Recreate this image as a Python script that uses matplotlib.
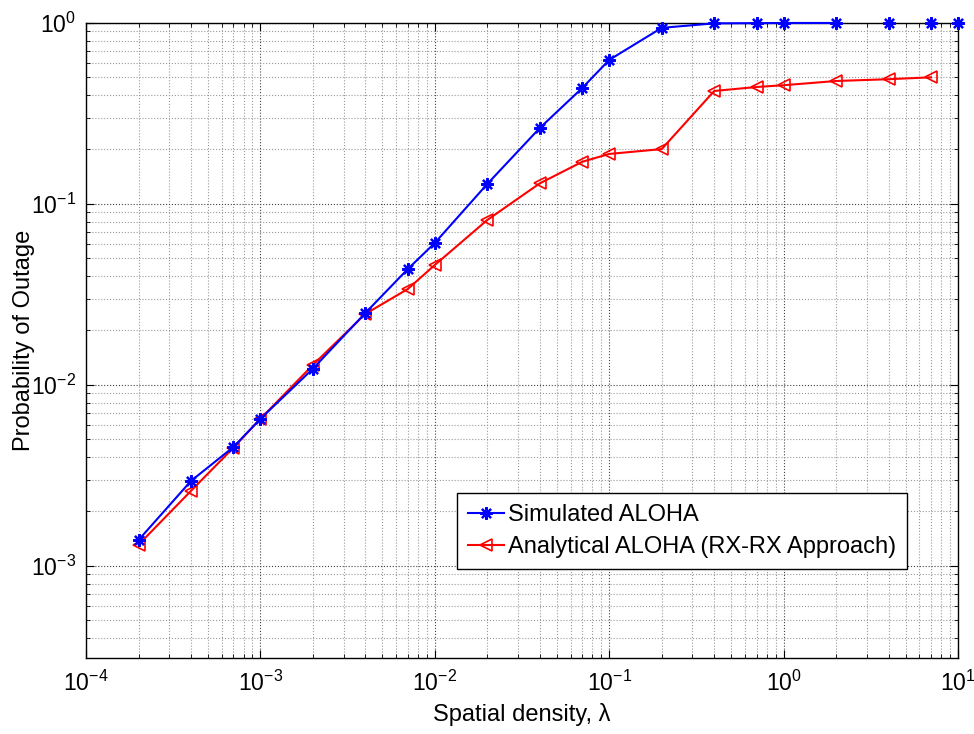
import numpy as np
import matplotlib.pyplot as plt

plt.rcParams['font.family'] = ['Liberation Sans', 'DejaVu Sans']
plt.rcParams['mathtext.fontset'] = 'custom'
plt.rcParams['mathtext.rm'] = 'Liberation Sans'
plt.rcParams['mathtext.it'] = 'Liberation Sans:italic'
plt.rcParams['mathtext.default'] = 'regular'

# spatial density values
lam = [2e-4, 4e-4, 7e-4, 1e-3, 2e-3, 4e-3, 7e-3, 1e-2, 2e-2, 4e-2,
       7e-2, 1e-1, 2e-1, 4e-1, 7e-1, 1, 2, 4, 7, 10]

# simulated ALOHA outage
p_sim = [1.39e-3, 2.95e-3, 4.54e-3, 6.5e-3, 1.23e-2, 2.5e-2, 4.37e-2, 6.09e-2, 0.129, 0.263,
         0.437, 0.625, 0.94, 0.995, 0.998, 1.0, 1.0, 1.0, 1.0, 1.0]

# analytical ALOHA (RX-RX approach), no point at 10
lam_an = lam[:-1]
p_an = [1.31e-3, 2.6e-3, 4.5e-3, 6.5e-3, 1.29e-2, 2.47e-2, 3.39e-2, 4.6e-2, 0.0816, 0.130,
        0.171, 0.189, 0.201, 0.421, 0.443, 0.453, 0.478, 0.489, 0.501]

n_line = 17  # blue line stops at lambda = 2, last points only markers
star = (8, 2, 0)  # matlab style asterisk

fig = plt.figure(figsize=(9.74, 7.34), dpi=100)
ax = fig.add_axes([0.0883, 0.1035, 0.8953, 0.8652])

ax.plot(lam[:n_line], p_sim[:n_line], color='#0000ff', lw=1.5, marker=star, ms=9, mew=1.6,
        label='Simulated ALOHA', clip_on=False, zorder=4)
ax.plot(lam[n_line:], p_sim[n_line:], color='#0000ff', ls='none', marker=star, ms=9, mew=1.6,
        clip_on=False, zorder=4)
ax.plot(lam_an, p_an, color='#ff0000', lw=1.5, marker='<', ms=8, mfc='none', mew=1.2,
        label='Analytical ALOHA (RX-RX Approach)', zorder=3)

ax.set_xscale('log')
ax.set_yscale('log')
ax.set_xlim(1e-4, 10)
ax.set_ylim(3.1e-4, 1)

ax.grid(True, which='major', ls=':', color='#444444', lw=0.8)
ax.grid(True, which='minor', ls=':', color='#999999', lw=0.8)
ax.tick_params(which='both', direction='in', top=True, right=True, labelsize=16.5)
ax.tick_params(axis='x', which='major', pad=9)
ax.tick_params(axis='y', which='major', pad=7)
ax.tick_params(which='major', length=6)
ax.tick_params(which='minor', length=3)
for s in ax.spines.values():
    s.set_linewidth(1.0)

ax.set_xlabel('Spatial density, λ', fontsize=17)
ax.set_ylabel('Probability of Outage', fontsize=17)
ax.xaxis.set_label_coords(0.5, -0.071)
ax.yaxis.set_label_coords(-0.058, 0.5)

leg = ax.legend(loc='lower right', bbox_to_anchor=(0.9415, 0.1400), fontsize=17,
                fancybox=False, framealpha=1, edgecolor='black', handlelength=1.5,
                handletextpad=0.2, borderpad=0.45, labelspacing=0.45, borderaxespad=0)
leg.get_frame().set_linewidth(1.0)

plt.savefig('out.png', dpi=100)
